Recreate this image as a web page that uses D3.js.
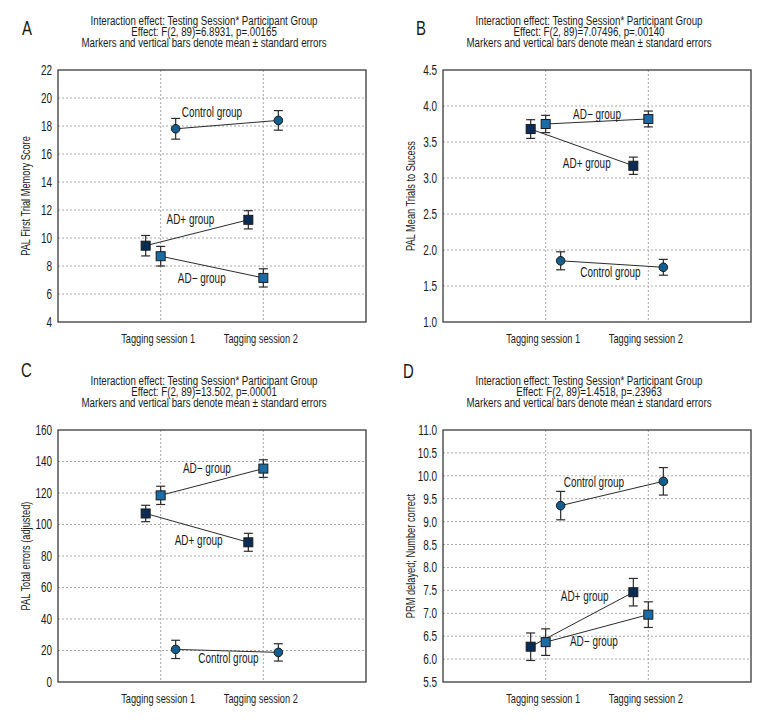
<!DOCTYPE html>
<html>
<head>
<meta charset="utf-8">
<script src="https://cdn.jsdelivr.net/npm/d3@7"></script>
<style>
  body { margin: 0; background: #fff; }
  svg { display: block; }
  text { font-family: "Liberation Sans", Arial, sans-serif; fill: #1a1a1a; }
</style>
</head>
<body>
<svg id="chart" width="771" height="720"></svg>
<script>
// ---------- data ----------
const sessions = ["Tagging session 1", "Tagging session 2"];
const groups = ["AD+ group", "AD\u2212 group", "Control group"];
const panelLetters = ["A", "B", "C", "D"];
const titleLine1 = "Interaction effect: Testing Session* Participant Group";
const titleLine3 = "Markers and vertical bars denote mean \u00b1 standard errors";
const effectLines = [
  "Effect: F(2, 89)=6.8931, p=.00165",
  "Effect: F(2, 89)=7.07496, p=.00140",
  "Effect: F(2, 89)=13.502, p=.00001",
  "Effect: F(2, 89)=1.4518, p=.23963"
];
const yLabels = [
  "PAL First Trial Memory Score",
  "PAL Mean Trials to Sucess",
  "PAL Total errors (adjusted)",
  "PRM delayed; Number correct"
];
const yTicksA = [4, 6, 8, 10, 12, 14, 16, 18, 20, 22];
const yTicksB = [1.0, 1.5, 2.0, 2.5, 3.0, 3.5, 4.0, 4.5];
const yTicksC = [0, 20, 40, 60, 80, 100, 120, 140, 160];
const yTicksD = [5.5, 6.0, 6.5, 7.0, 7.5, 8.0, 8.5, 9.0, 9.5, 10.0, 10.5, 11.0];

// means per group [AD+, AD−, Control], each [session1, session2]
const meansA = [[9.45, 11.3], [8.7, 7.15], [17.8, 18.4]];
const seA    = [[0.73, 0.65], [0.7, 0.65], [0.74, 0.7]];
const meansB = [[3.68, 3.17], [3.75, 3.82], [1.85, 1.76]];
const seB    = [[0.13, 0.12], [0.12, 0.11], [0.125, 0.11]];
const meansC = [[107, 88.7], [118.5, 135.5], [20.7, 18.8]];
const seC    = [[5.2, 5.7], [5.8, 5.6], [5.8, 5.5]];
const meansD = [[6.27, 7.46], [6.37, 6.97], [9.35, 9.88]];
const seD    = [[0.3, 0.3], [0.29, 0.28], [0.31, 0.3]];

// label anchors: [x in category units (0..3), y in data units] per group
const labelsA = [[1.29, 11.0], [1.40, 6.79], [1.50, 18.64]];
const labelsB = [[1.40, 3.14], [1.50, 3.82], [1.63, 1.625]];
const labelsC = [[1.37, 87], [1.45, 132.7], [1.66, 12]];
const labelsD = [[1.38, 7.27], [1.47, 6.28], [1.47, 9.76]];

const panels = [
  { ticks: yTicksA, means: meansA, se: seA, labels: labelsA, fmt: d3.format("d") },
  { ticks: yTicksB, means: meansB, se: seB, labels: labelsB, fmt: d3.format(".1f") },
  { ticks: yTicksC, means: meansC, se: seC, labels: labelsC, fmt: d3.format("d") },
  { ticks: yTicksD, means: meansD, se: seD, labels: labelsD, fmt: d3.format(".1f") }
];

// ---------- styling / layout ----------
const FONT = '"Liberation Sans", Arial, sans-serif';
const groupFill = ["#0b2d55", "#1b6ba6", "#145e8d"];
const groupShape = ["square", "square", "circle"];
const groupOffset = [-15, 0, 15];
const frames = [
  { left: 58, top: 70 }, { left: 443, top: 70 },
  { left: 58, top: 430 }, { left: 443, top: 430 }
];
const letterPos = [[22, 35], [416, 35], [21, 377], [403, 378]];
const W = 308, H = 252;

const svg = d3.select("#chart");

// condensing factors (the reference uses a condensed face)
function measure(txt, size) {
  const t = svg.append("text").attr("font-size", size).style("font-family", FONT).text(txt);
  const L = t.node().getComputedTextLength();
  t.remove();
  return L;
}
const CF_TITLE = 245 / measure(titleLine3, 12);
const CF_LABEL = 74 / measure(sessions[0], 13);
function condense(cf) {
  return sel => sel.each(function () {
    const L = this.getComputedTextLength();
    if (L > 0) {
      this.setAttribute("textLength", L * cf);
      this.setAttribute("lengthAdjust", "spacingAndGlyphs");
    }
  });
}

panels.forEach((p, i) => {
  const f = frames[i];
  const g = svg.append("g").attr("transform", `translate(${f.left},${f.top})`);
  const y = d3.scaleLinear().domain(d3.extent(p.ticks)).range([H, 0]);
  const x = d3.scalePoint().domain(sessions).range([0, W]).padding(1);
  const xu = d3.scaleLinear().domain([0, 3]).range([0, W]);

  // horizontal grid
  g.append("g").selectAll("line").data(p.ticks.slice(1, -1)).join("line")
    .attr("x1", 0).attr("x2", W)
    .attr("y1", d => y(d)).attr("y2", d => y(d))
    .attr("stroke", "#a8a8a8").attr("stroke-width", 1).attr("stroke-dasharray", "2,2");
  // vertical grid
  g.append("g").selectAll("line").data(sessions).join("line")
    .attr("x1", d => x(d)).attr("x2", d => x(d))
    .attr("y1", 0).attr("y2", H)
    .attr("stroke", "#a8a8a8").attr("stroke-width", 1).attr("stroke-dasharray", "2,2");

  // frame
  g.append("rect").attr("x", 0).attr("y", 0).attr("width", W).attr("height", H)
    .attr("fill", "none").attr("stroke", "#3a3a3a").attr("stroke-width", 1.3);

  // y axis tick labels
  const yAxis = d3.axisLeft(y).tickValues(p.ticks).tickFormat(p.fmt).tickSize(0).tickPadding(6);
  const ya = g.append("g").call(yAxis);
  ya.select(".domain").remove();
  ya.selectAll("text").attr("font-size", 14).attr("fill", "#1a1a1a").style("font-family", FONT)
    .call(condense(CF_LABEL));

  // x axis labels
  const xAxis = d3.axisBottom(x).tickSize(0).tickPadding(12);
  const xa = g.append("g").attr("transform", `translate(0,${H})`).call(xAxis);
  xa.select(".domain").remove();
  xa.selectAll("text").attr("font-size", 13).attr("fill", "#1a1a1a").attr("dx", -3)
    .style("font-family", FONT).call(condense(CF_LABEL));

  // y label
  g.append("text")
    .attr("transform", `translate(-28,${H / 2}) rotate(-90)`)
    .attr("text-anchor", "middle").attr("font-size", 13)
    .text(yLabels[i]).call(condense(CF_LABEL));

  // titles
  const tx = W / 2 - 8;
  [titleLine1, effectLines[i], titleLine3].forEach((t, k) => {
    g.append("text").attr("x", tx).attr("y", -45.5 + k * 11.3)
      .attr("text-anchor", "middle").attr("font-size", 12).text(t).call(condense(CF_TITLE));
  });

  // panel letter
  svg.append("text").attr("x", letterPos[i][0]).attr("y", letterPos[i][1])
    .attr("font-size", 21).text(panelLetters[i]).call(condense(CF_LABEL));

  // series
  groups.forEach((gr, k) => {
    const pts = sessions.map((s, j) => ({
      x: x(s) + groupOffset[k], m: p.means[k][j], e: p.se[k][j]
    }));
    g.append("path")
      .attr("d", d3.line().x(d => d.x).y(d => y(d.m))(pts))
      .attr("fill", "none").attr("stroke", "#2a2a2a").attr("stroke-width", 1);
    const eb = g.append("g");
    pts.forEach(d => {
      eb.append("line").attr("x1", d.x).attr("x2", d.x)
        .attr("y1", y(d.m - d.e)).attr("y2", y(d.m + d.e))
        .attr("stroke", "#2a2a2a").attr("stroke-width", 1.2);
      [d.m - d.e, d.m + d.e].forEach(v => {
        eb.append("line").attr("x1", d.x - 4.5).attr("x2", d.x + 4.5)
          .attr("y1", y(v)).attr("y2", y(v))
          .attr("stroke", "#2a2a2a").attr("stroke-width", 1.2);
      });
    });
    if (groupShape[k] === "square") {
      g.append("g").selectAll("rect").data(pts).join("rect")
        .attr("x", d => d.x - 4.5).attr("y", d => y(d.m) - 4.5)
        .attr("width", 9).attr("height", 9)
        .attr("fill", groupFill[k]).attr("stroke", "#1a1a1a").attr("stroke-width", 1);
    } else {
      g.append("g").selectAll("circle").data(pts).join("circle")
        .attr("cx", d => d.x).attr("cy", d => y(d.m)).attr("r", 4.3)
        .attr("fill", groupFill[k]).attr("stroke", "#1a1a1a").attr("stroke-width", 1);
    }
    // group label
    g.append("text").attr("x", xu(p.labels[k][0])).attr("y", y(p.labels[k][1]))
      .attr("text-anchor", "middle").attr("font-size", 14).text(gr).call(condense(CF_LABEL));
  });
});
</script>
</body>
</html>
